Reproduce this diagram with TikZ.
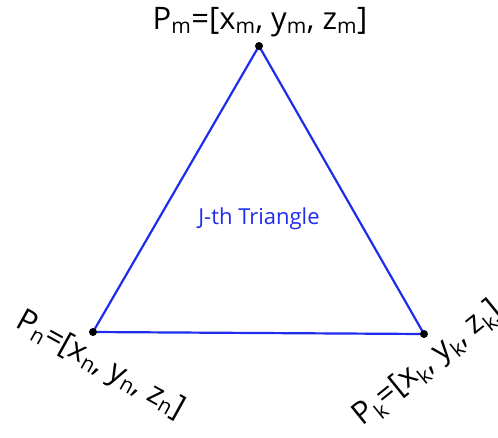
\documentclass[tikz,border=0pt]{standalone}
\usepackage{fontspec}
\setmainfont{Open Sans}
\usetikzlibrary{positioning}
\definecolor{edgeblue}{RGB}{30,45,235}

\newcommand{\sbs}[1]{\textsubscript{\fontsize{21}{21}\selectfont #1}}

\begin{document}
\begin{tikzpicture}[
    x=1pt, y=-1pt,
    vertex/.style={circle, fill=black, inner sep=0pt, minimum size=8pt},
    edge/.style={draw=edgeblue, line width=2.2pt},
    plabel/.style={font=\fontsize{31}{36}\selectfont, inner sep=0pt},
    tlabel/.style={font=\fontsize{22}{26}\selectfont, text=edgeblue}
]
\useasboundingbox (0,0) rectangle (498,437);

\coordinate (pm) at (259,46);
\coordinate (pn) at (93,332);
\coordinate (pk) at (424,334);

% triangle edges
\draw[edge] (pm) -- (pn) -- (pk) -- cycle;

% vertices
\node[vertex] (vm) at (pm) {};
\node[vertex] (vn) at (pn) {};
\node[vertex] (vk) at (pk) {};

% labels
\node[plabel] (lm) at (260,22) {P\sbs{m}=[x\sbs{m}, y\sbs{m}, z\sbs{m}]};
\node[plabel, rotate=-29] (ln) at (100,366) {P\sbs{n}=[x\sbs{n}, y\sbs{n}, z\sbs{n}]};
\node[plabel, rotate=39] (lk) at (428,364) {P\sbs{k}=[x\sbs{k}, y\sbs{k}, z\sbs{k}]};

\node[tlabel] (tri) at (259,219) {J-th Triangle};

\end{tikzpicture}
\end{document}
